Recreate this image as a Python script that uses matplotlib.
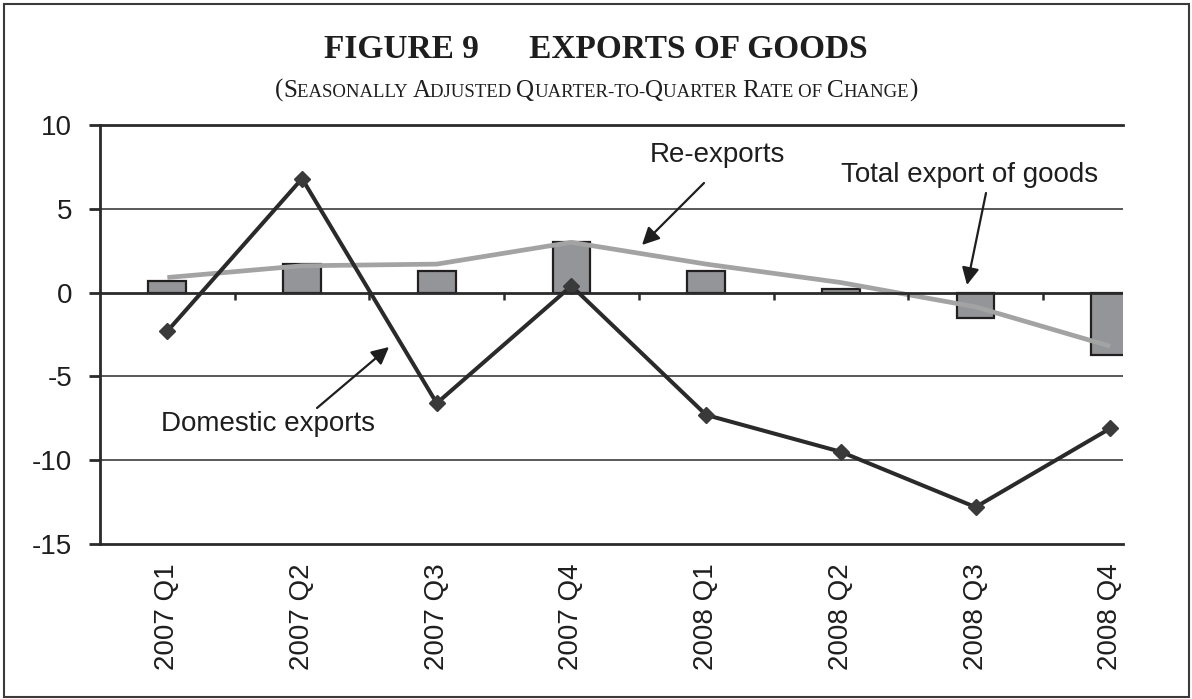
import matplotlib
matplotlib.use("Agg")
import matplotlib.pyplot as plt
from matplotlib.patches import Rectangle
import numpy as np

quarters = ["2007 Q1", "2007 Q2", "2007 Q3", "2007 Q4",
            "2008 Q1", "2008 Q2", "2008 Q3", "2008 Q4"]
total_goods = [0.7, 1.7, 1.3, 3.0, 1.3, 0.2, -1.5, -3.7]
domestic = [-2.3, 6.8, -6.6, 0.4, -7.3, -9.5, -12.8, -8.1]
re_exports = [0.9, 1.6, 1.7, 3.0, 1.7, 0.6, -0.85, -3.2]
y_ticks = [10, 5, 0, -5, -10, -15]

SANS = "Liberation Sans"
SERIF = "Liberation Serif"
DARK = "#2a2a2a"

fig = plt.figure(figsize=(11.92, 6.99), dpi=100)
ax = fig.add_axes([100 / 1192, 1 - 544 / 699, 1023 / 1192, 419 / 699])

x = np.arange(len(quarters))

# bars for total exports
ax.bar(x, total_goods, width=0.28, color="#939598", edgecolor="#231f20",
       linewidth=1.6, zorder=3, clip_on=True)
# re-exports line
ax.plot(x, re_exports, color="#a3a3a3", linewidth=3.4, zorder=4,
        solid_capstyle="butt")
# domestic exports line with diamond markers
ax.plot(x, domestic, color=DARK, linewidth=2.9, marker="D", markersize=8.5,
        markerfacecolor="#3a3a3a", markeredgecolor="#3a3a3a", zorder=5)

ax.set_xlim(-0.5, -0.5 + 1023 / 134.7)
ax.set_ylim(-15, 10)

# horizontal gridlines
for v in y_ticks[1:-1]:
    if v == 0:
        continue
    ax.axhline(v, color="#3c3c3c", linewidth=1.2, zorder=1)
# zero baseline with category separators
ax.axhline(0, color=DARK, linewidth=2.0, zorder=6)
ax.vlines(x[:-1] + 0.5, 0, -0.45, color=DARK, linewidth=1.8, zorder=6)

for side in ["left", "top", "bottom"]:
    ax.spines[side].set_color(DARK)
    ax.spines[side].set_linewidth(2.0)
ax.spines["right"].set_visible(False)

ax.set_yticks(y_ticks)
ax.set_yticklabels([str(v) for v in y_ticks], fontsize=20, family=SANS,
                   color="#1e1e1e")
ax.tick_params(axis="y", direction="out", length=8, width=2.0, color=DARK,
               pad=12)
ax.set_xticks(x)
ax.set_xticklabels(quarters, rotation=90, fontsize=20, family=SANS,
                   color="#1e1e1e")
ax.tick_params(axis="x", length=0, pad=14)

# annotations
def to_data(px, py):
    return (-0.5 + (px - 100) / 134.7, (292.6 - py) / 16.76)

arrow_kw = dict(arrowstyle="-|>", color="#1e1e1e", lw=1.6,
                mutation_scale=26, shrinkA=0, shrinkB=0)
ax.text(*to_data(717, 155), "Re-exports", fontsize=20, family=SANS,
        color="#1e1e1e", ha="center", va="center", zorder=7)
ax.annotate("", xy=to_data(642, 245), xytext=to_data(704, 183),
            arrowprops=arrow_kw, zorder=7)
ax.text(*to_data(970, 175), "Total export of goods", fontsize=20,
        family=SANS, color="#1e1e1e", ha="center", va="center", zorder=7)
ax.annotate("", xy=to_data(967, 285), xytext=to_data(986, 193),
            arrowprops=arrow_kw, zorder=7)
ax.text(*to_data(268, 424), "Domestic exports", fontsize=20, family=SANS,
        color="#1e1e1e", ha="center", va="center", zorder=7)
ax.annotate("", xy=to_data(389, 347), xytext=to_data(317, 408),
            arrowprops=arrow_kw, zorder=7)

# title
fig.text(0.5, 1 - 50 / 699, "FIGURE 9      EXPORTS OF GOODS", family=SERIF,
         fontweight="bold", fontsize=24, color="#1e1e1e", ha="center",
         va="center")

# subtitle in small caps, assembled from pieces
pieces = [("(", 18), ("S", 18), ("EASONALLY ", 13.5), ("A", 18),
          ("DJUSTED ", 13.5), ("Q", 18), ("UARTER-TO-", 13.5), ("Q", 18),
          ("UARTER ", 13.5), ("R", 18), ("ATE OF ", 13.5), ("C", 18),
          ("HANGE", 13.5), (")", 18)]
renderer = fig.canvas.get_renderer()
texts = []
widths = []
base_y = 1 - 97 / 699
for s, size in pieces:
    t = fig.text(0, base_y, s.replace(" ", "\u00a0"), family=SERIF,
                 fontsize=size, color="#1e1e1e", ha="left", va="baseline")
    texts.append(t)
    widths.append(t.get_window_extent(renderer).width)
total_w = sum(widths)
start = (1192 - total_w) / 2
for t, w in zip(texts, widths):
    t.set_x(start / 1192)
    start += w

# frame around the figure
fig.patches.append(Rectangle((4 / 1192, 2 / 699), 1185 / 1192, 693 / 699,
                             transform=fig.transFigure, fill=False,
                             edgecolor="#3a3a3a", linewidth=1.5))

fig.savefig("out.png", dpi=100, facecolor="white")
